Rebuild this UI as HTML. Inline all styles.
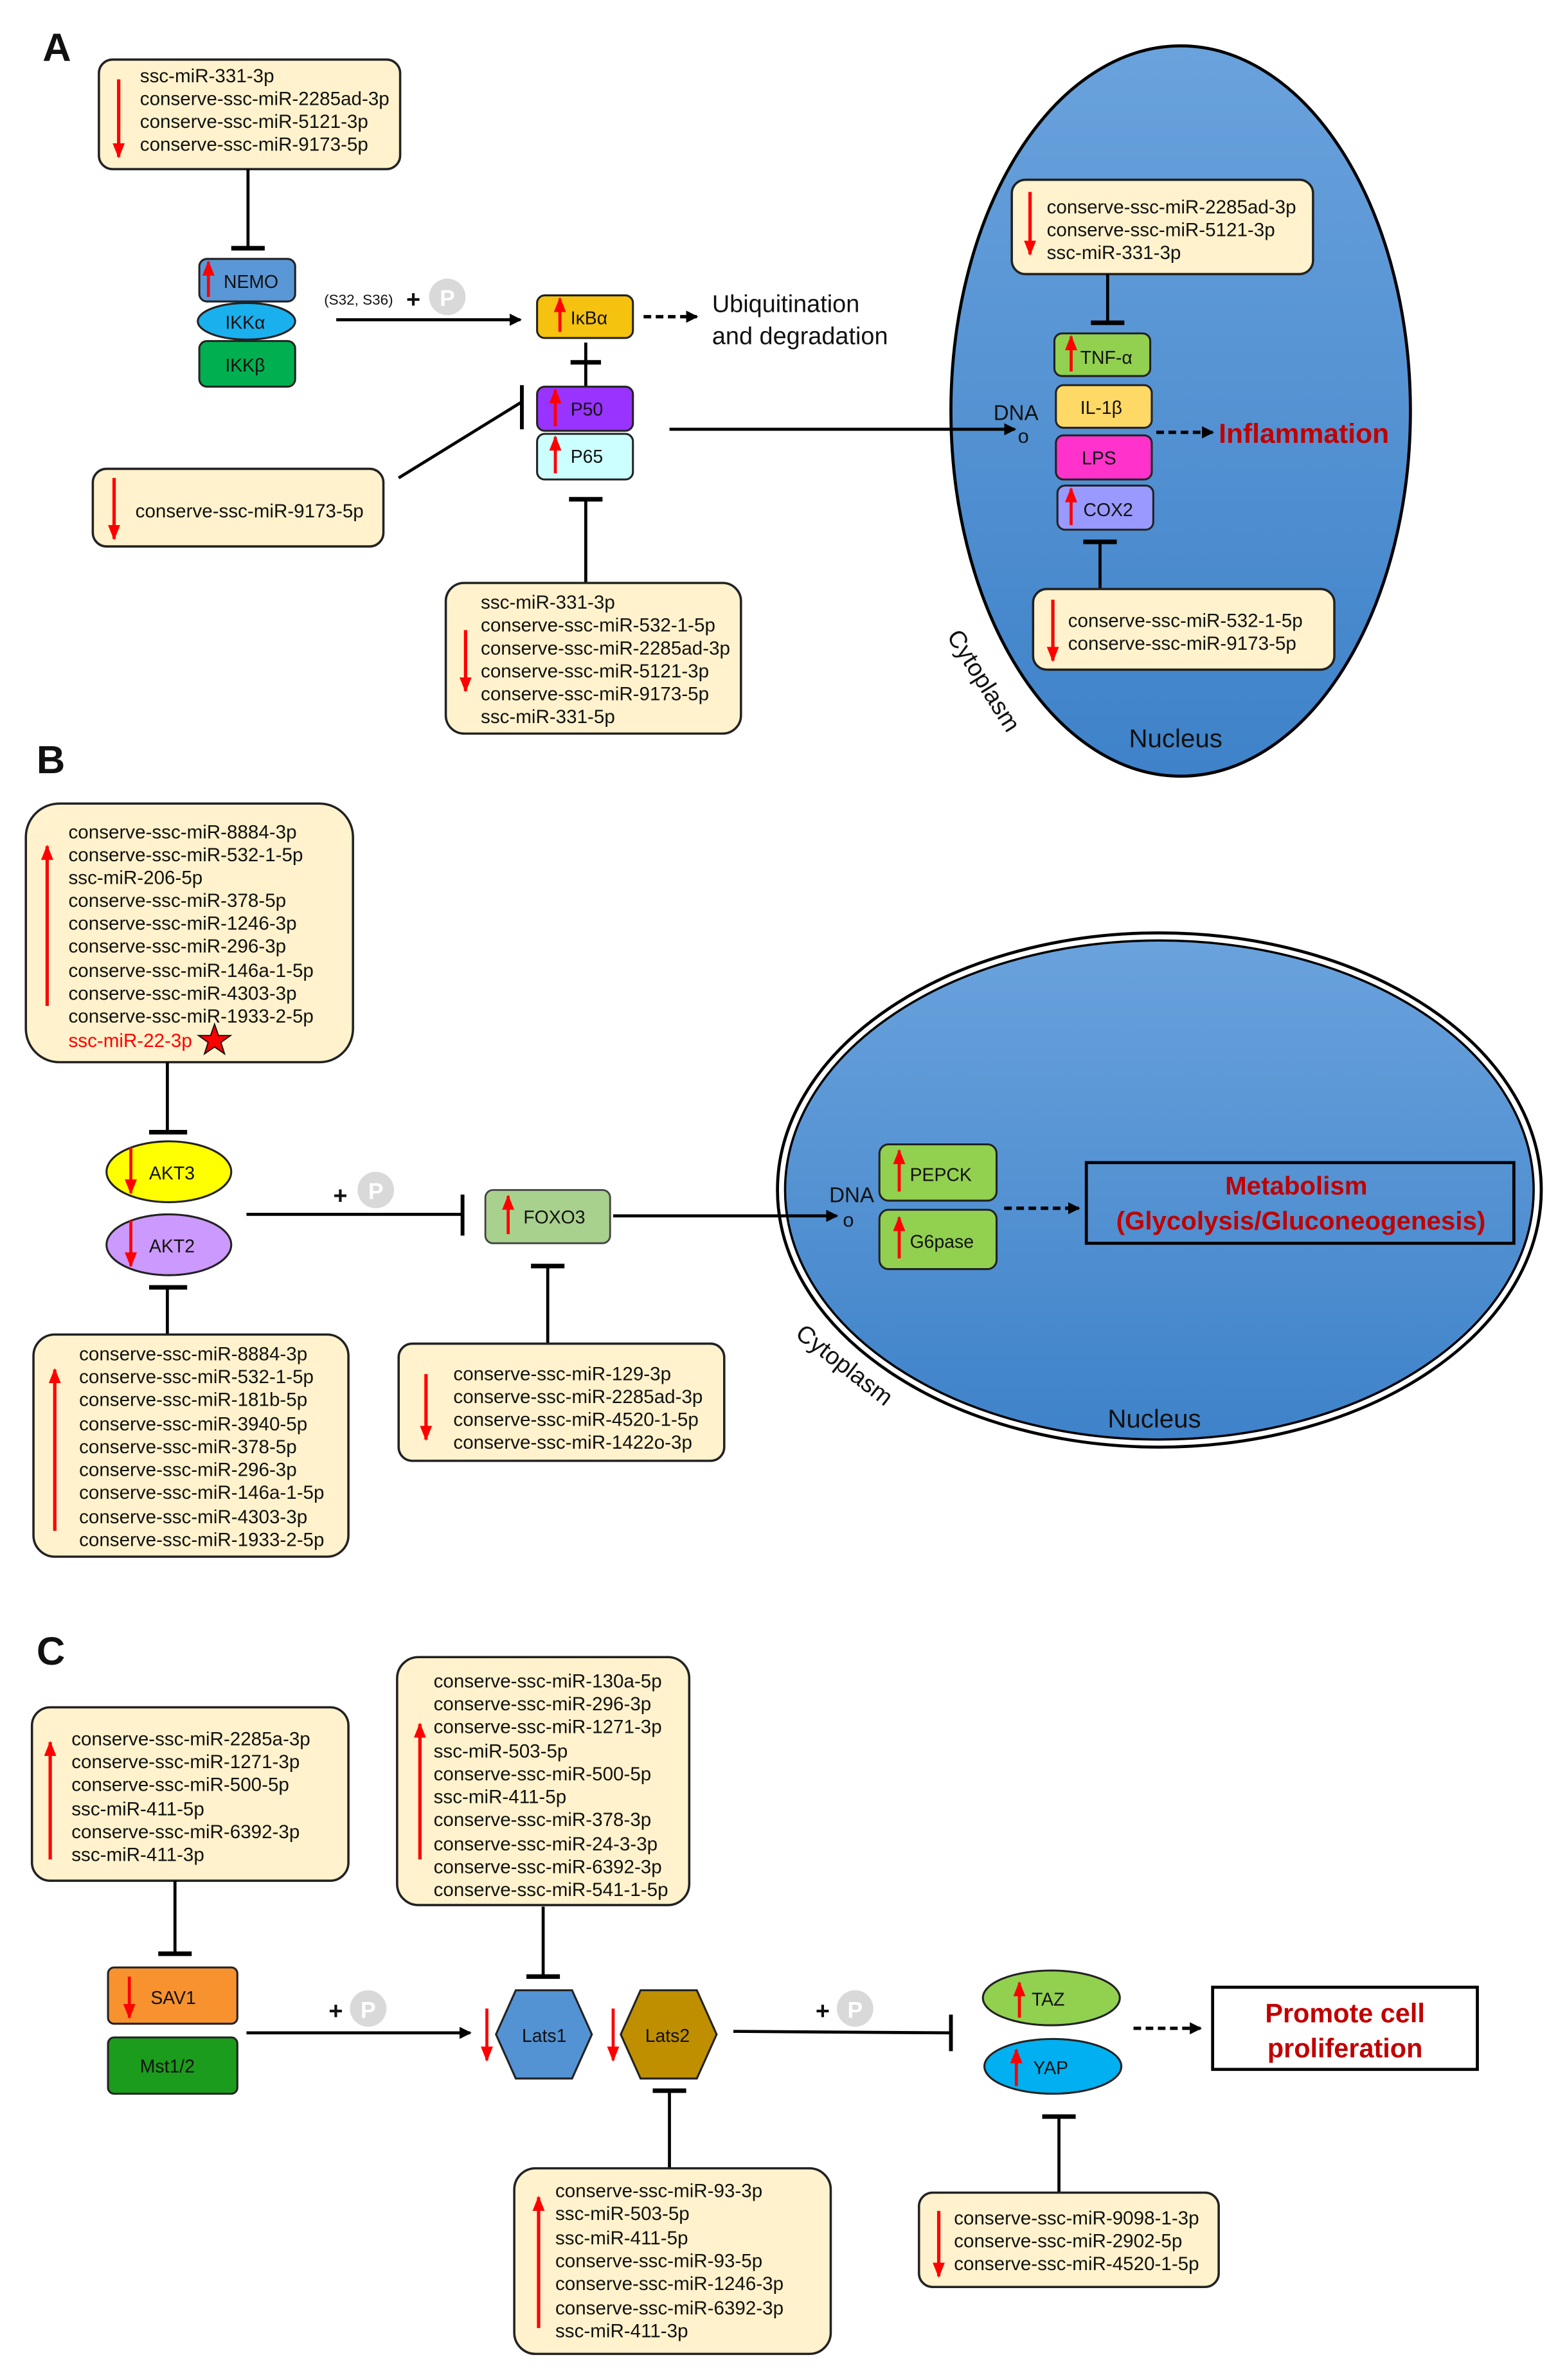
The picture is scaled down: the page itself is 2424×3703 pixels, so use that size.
<!DOCTYPE html>
<html><head><meta charset="utf-8"><style>
html,body{margin:0;padding:0;background:#fff}
svg{display:block}
text{font-family:"Liberation Sans",Arial,sans-serif;fill:#111}
.m{font-size:12.5px}
.n{font-size:12px}
</style></head><body>
<svg width="2424" height="3703" viewBox="0 0 1024 1564" xmlns="http://www.w3.org/2000/svg">
<defs>
<marker id="ba" markerWidth="8" markerHeight="8" refX="7" refY="4" orient="auto" markerUnits="userSpaceOnUse"><path d="M0,0 L8,4 L0,8 z" fill="#000"/></marker>
<marker id="ra" markerWidth="10" markerHeight="8" refX="9" refY="4" orient="auto" markerUnits="userSpaceOnUse"><path d="M0,0 L10,4 L0,8 z" fill="#f00"/></marker>
<linearGradient id="nuc" x1="0" y1="0" x2="0" y2="1"><stop offset="0" stop-color="#6aa2dc"/><stop offset="1" stop-color="#3e82c9"/></linearGradient>
</defs>
<g stroke-linecap="butt">

<!-- ============ A ============ -->
<text x="28" y="40" style="font-size:26px;font-weight:bold">A</text>
<rect x="65" y="39" width="198" height="72" rx="9" fill="#fff2cc" stroke="#222" stroke-width="1.5"/>
<line x1="78" y1="52" x2="78" y2="103" stroke="#f00" stroke-width="2.2" marker-end="url(#ra)"/>
<text class="m" x="92" y="54">ssc-miR-331-3p</text>
<text class="m" x="92" y="69">conserve-ssc-miR-2285ad-3p</text>
<text class="m" x="92" y="84">conserve-ssc-miR-5121-3p</text>
<text class="m" x="92" y="99">conserve-ssc-miR-9173-5p</text>
<line x1="163" y1="111" x2="163" y2="163" stroke="#000" stroke-width="2"/>
<line x1="152" y1="163" x2="174" y2="163" stroke="#000" stroke-width="3"/>

<rect x="131" y="170" width="63" height="28" rx="5" fill="#5a97d6" stroke="#222" stroke-width="1.3"/>
<line x1="137" y1="195" x2="137" y2="172" stroke="#f00" stroke-width="2" marker-end="url(#ra)"/>
<text class="n" x="147" y="189">NEMO</text>
<rect x="131" y="224" width="63" height="30" rx="5" fill="#00b050" stroke="#222" stroke-width="1.3"/>
<text class="n" x="148" y="244">IKKβ</text>
<ellipse cx="162" cy="211" rx="32" ry="12" fill="#1ab0ee" stroke="#222" stroke-width="1.3"/>
<text class="n" x="148" y="216">IKKα</text>

<line x1="221" y1="210" x2="342" y2="210" stroke="#000" stroke-width="2" marker-end="url(#ba)"/>
<text x="213" y="200" style="font-size:9.5px">(S32, S36)</text>
<text x="267" y="202" style="font-size:16px;font-weight:bold">+</text>
<circle cx="294" cy="195" r="12" fill="#d9d9d9"/>
<text x="294" y="201" text-anchor="middle" style="font-size:15px;font-weight:bold;fill:#fff">P</text>

<rect x="353" y="194" width="63" height="28" rx="5" fill="#f5c20f" stroke="#222" stroke-width="1.3"/>
<line x1="368" y1="218" x2="368" y2="196" stroke="#f00" stroke-width="2" marker-end="url(#ra)"/>
<text class="n" x="375" y="213">IκBα</text>
<line x1="423" y1="208" x2="458" y2="208" stroke="#000" stroke-width="2.2" stroke-dasharray="5,3" marker-end="url(#ba)"/>
<text x="468" y="205" style="font-size:16px">Ubiquitination</text>
<text x="468" y="226" style="font-size:16px">and degradation</text>

<line x1="385" y1="225" x2="385" y2="254" stroke="#000" stroke-width="2"/>
<line x1="375" y1="238" x2="395" y2="238" stroke="#000" stroke-width="3"/>

<rect x="353" y="254" width="63" height="29" rx="5" fill="#9933ff" stroke="#222" stroke-width="1.3"/>
<line x1="365" y1="280" x2="365" y2="256" stroke="#f00" stroke-width="2" marker-end="url(#ra)"/>
<text class="n" x="375" y="273">P50</text>
<rect x="353" y="285" width="63" height="30" rx="5" fill="#ccffff" stroke="#222" stroke-width="1.3"/>
<line x1="365" y1="311" x2="365" y2="287" stroke="#f00" stroke-width="2" marker-end="url(#ra)"/>
<text class="n" x="375" y="304">P65</text>

<line x1="262" y1="314" x2="343" y2="264" stroke="#000" stroke-width="2"/>
<line x1="343" y1="253" x2="343" y2="282" stroke="#000" stroke-width="2.5"/>
<rect x="61" y="308" width="191" height="51" rx="9" fill="#fff2cc" stroke="#222" stroke-width="1.5"/>
<line x1="75" y1="314" x2="75" y2="354" stroke="#f00" stroke-width="2.2" marker-end="url(#ra)"/>
<text class="m" x="89" y="340">conserve-ssc-miR-9173-5p</text>

<line x1="385" y1="383" x2="385" y2="328" stroke="#000" stroke-width="2"/>
<line x1="374" y1="328" x2="396" y2="328" stroke="#000" stroke-width="3"/>
<rect x="293" y="383" width="194" height="99" rx="12" fill="#fff2cc" stroke="#222" stroke-width="1.5"/>
<line x1="306" y1="414" x2="306" y2="454" stroke="#f00" stroke-width="2.2" marker-end="url(#ra)"/>
<text class="m" x="316" y="400">ssc-miR-331-3p</text>
<text class="m" x="316" y="415">conserve-ssc-miR-532-1-5p</text>
<text class="m" x="316" y="430">conserve-ssc-miR-2285ad-3p</text>
<text class="m" x="316" y="445">conserve-ssc-miR-5121-3p</text>
<text class="m" x="316" y="460">conserve-ssc-miR-9173-5p</text>
<text class="m" x="316" y="475">ssc-miR-331-5p</text>

<ellipse cx="776" cy="270" rx="151" ry="240" fill="url(#nuc)" stroke="#000" stroke-width="2"/>
<line x1="440" y1="282" x2="667" y2="282" stroke="#000" stroke-width="2" marker-end="url(#ba)"/>
<text x="653" y="276" style="font-size:14px">DNA</text>
<text x="669" y="291" style="font-size:13px">o</text>

<rect x="665" y="118" width="198" height="62" rx="9" fill="#fff2cc" stroke="#222" stroke-width="1.5"/>
<line x1="677" y1="126" x2="677" y2="167" stroke="#f00" stroke-width="2.2" marker-end="url(#ra)"/>
<text class="m" x="688" y="140">conserve-ssc-miR-2285ad-3p</text>
<text class="m" x="688" y="155">conserve-ssc-miR-5121-3p</text>
<text class="m" x="688" y="170">ssc-miR-331-3p</text>
<line x1="728" y1="180" x2="728" y2="212" stroke="#000" stroke-width="2"/>
<line x1="717" y1="212" x2="739" y2="212" stroke="#000" stroke-width="3"/>

<rect x="693" y="219" width="63" height="28" rx="5" fill="#92d050" stroke="#222" stroke-width="1.3"/>
<line x1="704" y1="244" x2="704" y2="221" stroke="#f00" stroke-width="2" marker-end="url(#ra)"/>
<text class="n" x="710" y="239">TNF-α</text>
<rect x="694" y="253" width="63" height="28" rx="5" fill="#ffd966" stroke="#222" stroke-width="1.3"/>
<text class="n" x="710" y="272">IL-1β</text>
<rect x="694" y="286" width="63" height="29" rx="5" fill="#ff33cc" stroke="#222" stroke-width="1.3"/>
<text class="n" x="711" y="305">LPS</text>
<rect x="695" y="319" width="63" height="29" rx="5" fill="#9999ff" stroke="#222" stroke-width="1.3"/>
<line x1="704" y1="345" x2="704" y2="321" stroke="#f00" stroke-width="2" marker-end="url(#ra)"/>
<text class="n" x="712" y="339">COX2</text>
<line x1="760" y1="284" x2="797" y2="284" stroke="#000" stroke-width="2.2" stroke-dasharray="5,3" marker-end="url(#ba)"/>
<text x="801" y="291" style="font-size:18px;font-weight:bold;fill:#c00000">Inflammation</text>

<line x1="723" y1="387" x2="723" y2="356" stroke="#000" stroke-width="2"/>
<line x1="712" y1="356" x2="734" y2="356" stroke="#000" stroke-width="3"/>
<rect x="679" y="387" width="198" height="53" rx="9" fill="#fff2cc" stroke="#222" stroke-width="1.5"/>
<line x1="692" y1="394" x2="692" y2="434" stroke="#f00" stroke-width="2.2" marker-end="url(#ra)"/>
<text class="m" x="702" y="412">conserve-ssc-miR-532-1-5p</text>
<text class="m" x="702" y="427">conserve-ssc-miR-9173-5p</text>

<text x="0" y="0" transform="translate(622,418) rotate(58)" style="font-size:16px">Cytoplasm</text>
<text x="742" y="491" style="font-size:17px">Nucleus</text>

<!-- ============ B ============ -->
<text x="24" y="508" style="font-size:26px;font-weight:bold">B</text>
<rect x="17" y="528" width="215" height="170" rx="22" fill="#fff2cc" stroke="#222" stroke-width="1.5"/>
<line x1="31" y1="661" x2="31" y2="556" stroke="#f00" stroke-width="2.2" marker-end="url(#ra)"/>
<text class="m" x="45" y="551">conserve-ssc-miR-8884-3p</text>
<text class="m" x="45" y="566">conserve-ssc-miR-532-1-5p</text>
<text class="m" x="45" y="581">ssc-miR-206-5p</text>
<text class="m" x="45" y="596">conserve-ssc-miR-378-5p</text>
<text class="m" x="45" y="611">conserve-ssc-miR-1246-3p</text>
<text class="m" x="45" y="626">conserve-ssc-miR-296-3p</text>
<text class="m" x="45" y="642">conserve-ssc-miR-146a-1-5p</text>
<text class="m" x="45" y="657">conserve-ssc-miR-4303-3p</text>
<text class="m" x="45" y="672">conserve-ssc-miR-1933-2-5p</text>
<text class="m" x="45" y="688" style="fill:#f00">ssc-miR-22-3p</text>
<path d="M141,673 L143.6,680.5 L151.5,680.5 L145.2,685 L147.6,692.5 L141,688 L134.4,692.5 L136.8,685 L130.5,680.5 L138.4,680.5 Z" fill="#f00" stroke="#111" stroke-width="0.8"/>

<line x1="110" y1="698" x2="110" y2="744" stroke="#000" stroke-width="2"/>
<line x1="98" y1="744" x2="123" y2="744" stroke="#000" stroke-width="3"/>
<ellipse cx="111" cy="770" rx="41" ry="20" fill="#ffff00" stroke="#222" stroke-width="1.3"/>
<line x1="86" y1="754" x2="86" y2="784" stroke="#f00" stroke-width="2" marker-end="url(#ra)"/>
<text class="n" x="98" y="775">AKT3</text>
<ellipse cx="111" cy="818" rx="41" ry="20" fill="#cc99ff" stroke="#222" stroke-width="1.3"/>
<line x1="86" y1="802" x2="86" y2="832" stroke="#f00" stroke-width="2" marker-end="url(#ra)"/>
<text class="n" x="98" y="823">AKT2</text>

<line x1="110" y1="877" x2="110" y2="846" stroke="#000" stroke-width="2"/>
<line x1="98" y1="846" x2="123" y2="846" stroke="#000" stroke-width="3"/>
<rect x="22" y="877" width="207" height="146" rx="14" fill="#fff2cc" stroke="#222" stroke-width="1.5"/>
<line x1="36" y1="1006" x2="36" y2="900" stroke="#f00" stroke-width="2.2" marker-end="url(#ra)"/>
<text class="m" x="52" y="894">conserve-ssc-miR-8884-3p</text>
<text class="m" x="52" y="909">conserve-ssc-miR-532-1-5p</text>
<text class="m" x="52" y="924">conserve-ssc-miR-181b-5p</text>
<text class="m" x="52" y="940">conserve-ssc-miR-3940-5p</text>
<text class="m" x="52" y="955">conserve-ssc-miR-378-5p</text>
<text class="m" x="52" y="970">conserve-ssc-miR-296-3p</text>
<text class="m" x="52" y="985">conserve-ssc-miR-146a-1-5p</text>
<text class="m" x="52" y="1001">conserve-ssc-miR-4303-3p</text>
<text class="m" x="52" y="1016">conserve-ssc-miR-1933-2-5p</text>

<line x1="162" y1="798" x2="303" y2="798" stroke="#000" stroke-width="2"/>
<line x1="304" y1="785" x2="304" y2="812" stroke="#000" stroke-width="2.5"/>
<text x="219" y="791" style="font-size:16px;font-weight:bold">+</text>
<circle cx="247" cy="782" r="12" fill="#d9d9d9"/>
<text x="247" y="788" text-anchor="middle" style="font-size:15px;font-weight:bold;fill:#fff">P</text>

<rect x="319" y="782" width="82" height="35" rx="5" fill="#a9d18e" stroke="#444" stroke-width="1.2"/>
<line x1="334" y1="811" x2="334" y2="786" stroke="#f00" stroke-width="2" marker-end="url(#ra)"/>
<text class="n" x="344" y="804">FOXO3</text>

<line x1="360" y1="883" x2="360" y2="832" stroke="#000" stroke-width="2"/>
<line x1="349" y1="832" x2="371" y2="832" stroke="#000" stroke-width="3"/>
<rect x="262" y="883" width="214" height="77" rx="9" fill="#fff2cc" stroke="#222" stroke-width="1.5"/>
<line x1="280" y1="903" x2="280" y2="946" stroke="#f00" stroke-width="2.2" marker-end="url(#ra)"/>
<text class="m" x="298" y="907">conserve-ssc-miR-129-3p</text>
<text class="m" x="298" y="922">conserve-ssc-miR-2285ad-3p</text>
<text class="m" x="298" y="937">conserve-ssc-miR-4520-1-5p</text>
<text class="m" x="298" y="952">conserve-ssc-miR-1422o-3p</text>

<ellipse cx="762" cy="782" rx="251" ry="169" fill="none" stroke="#000" stroke-width="2"/>
<ellipse cx="762" cy="782" rx="246" ry="164" fill="url(#nuc)" stroke="#000" stroke-width="1.5"/>
<line x1="403" y1="799" x2="550" y2="799" stroke="#000" stroke-width="2" marker-end="url(#ba)"/>
<text x="545" y="790" style="font-size:14px">DNA</text>
<text x="554" y="806" style="font-size:13px">o</text>
<rect x="578" y="752" width="77" height="37" rx="6" fill="#92d050" stroke="#222" stroke-width="1.3"/>
<line x1="591" y1="783" x2="591" y2="756" stroke="#f00" stroke-width="2" marker-end="url(#ra)"/>
<text class="n" x="598" y="776">PEPCK</text>
<rect x="578" y="795" width="77" height="39" rx="6" fill="#92d050" stroke="#222" stroke-width="1.3"/>
<line x1="591" y1="827" x2="591" y2="800" stroke="#f00" stroke-width="2" marker-end="url(#ra)"/>
<text class="n" x="598" y="820">G6pase</text>
<line x1="660" y1="794" x2="709" y2="794" stroke="#000" stroke-width="2.2" stroke-dasharray="5,3" marker-end="url(#ba)"/>
<rect x="714" y="764" width="281" height="53" fill="none" stroke="#000" stroke-width="2"/>
<text x="852" y="785" text-anchor="middle" style="font-size:17px;font-weight:bold;fill:#c00000">Metabolism</text>
<text x="855" y="808" text-anchor="middle" style="font-size:17px;font-weight:bold;fill:#c00000">(Glycolysis/Gluconeogenesis)</text>
<text x="0" y="0" transform="translate(522,878) rotate(38)" style="font-size:16px">Cytoplasm</text>
<text x="728" y="938" style="font-size:17px">Nucleus</text>

<!-- ============ C ============ -->
<text x="24" y="1094" style="font-size:26px;font-weight:bold">C</text>
<rect x="21" y="1122" width="208" height="114" rx="12" fill="#fff2cc" stroke="#222" stroke-width="1.5"/>
<line x1="33" y1="1222" x2="33" y2="1145" stroke="#f00" stroke-width="2.2" marker-end="url(#ra)"/>
<text class="m" x="47" y="1147">conserve-ssc-miR-2285a-3p</text>
<text class="m" x="47" y="1162">conserve-ssc-miR-1271-3p</text>
<text class="m" x="47" y="1177">conserve-ssc-miR-500-5p</text>
<text class="m" x="47" y="1193">ssc-miR-411-5p</text>
<text class="m" x="47" y="1208">conserve-ssc-miR-6392-3p</text>
<text class="m" x="47" y="1223">ssc-miR-411-3p</text>

<rect x="261" y="1089" width="192" height="163" rx="14" fill="#fff2cc" stroke="#222" stroke-width="1.5"/>
<line x1="276" y1="1222" x2="276" y2="1133" stroke="#f00" stroke-width="2.2" marker-end="url(#ra)"/>
<text class="m" x="285" y="1109">conserve-ssc-miR-130a-5p</text>
<text class="m" x="285" y="1124">conserve-ssc-miR-296-3p</text>
<text class="m" x="285" y="1139">conserve-ssc-miR-1271-3p</text>
<text class="m" x="285" y="1155">ssc-miR-503-5p</text>
<text class="m" x="285" y="1170">conserve-ssc-miR-500-5p</text>
<text class="m" x="285" y="1185">ssc-miR-411-5p</text>
<text class="m" x="285" y="1200">conserve-ssc-miR-378-3p</text>
<text class="m" x="285" y="1216">conserve-ssc-miR-24-3-3p</text>
<text class="m" x="285" y="1231">conserve-ssc-miR-6392-3p</text>
<text class="m" x="285" y="1246">conserve-ssc-miR-541-1-5p</text>

<line x1="115" y1="1236" x2="115" y2="1284" stroke="#000" stroke-width="2"/>
<line x1="104" y1="1284" x2="126" y2="1284" stroke="#000" stroke-width="3"/>
<rect x="71" y="1293" width="85" height="37" rx="4" fill="#f7922f" stroke="#222" stroke-width="1.3"/>
<line x1="85" y1="1299" x2="85" y2="1326" stroke="#f00" stroke-width="2" marker-end="url(#ra)"/>
<text class="n" x="99" y="1317">SAV1</text>
<rect x="71" y="1339" width="85" height="37" rx="4" fill="#1c9c1c" stroke="#222" stroke-width="1.3"/>
<text class="n" x="92" y="1362">Mst1/2</text>

<line x1="162" y1="1336" x2="309" y2="1336" stroke="#000" stroke-width="2" marker-end="url(#ba)"/>
<text x="216" y="1327" style="font-size:16px;font-weight:bold">+</text>
<circle cx="242" cy="1320" r="12" fill="#d9d9d9"/>
<text x="242" y="1326" text-anchor="middle" style="font-size:15px;font-weight:bold;fill:#fff">P</text>

<line x1="357" y1="1253" x2="357" y2="1299" stroke="#000" stroke-width="2"/>
<line x1="346" y1="1299" x2="368" y2="1299" stroke="#000" stroke-width="3"/>
<polygon points="339,1308 376,1308 389,1337 376,1366 339,1366 326,1337" fill="#5393d4" stroke="#222" stroke-width="1.3"/>
<line x1="320" y1="1320" x2="320" y2="1354" stroke="#f00" stroke-width="2" marker-end="url(#ra)"/>
<text class="n" x="343" y="1342">Lats1</text>
<polygon points="421,1308 458,1308 471,1337 458,1366 421,1366 408,1337" fill="#bf8f00" stroke="#222" stroke-width="1.3"/>
<line x1="403" y1="1320" x2="403" y2="1354" stroke="#f00" stroke-width="2" marker-end="url(#ra)"/>
<text class="n" x="424" y="1342">Lats2</text>

<line x1="440" y1="1425" x2="440" y2="1374" stroke="#000" stroke-width="2"/>
<line x1="429" y1="1374" x2="451" y2="1374" stroke="#000" stroke-width="3"/>
<rect x="338" y="1425" width="208" height="122" rx="14" fill="#fff2cc" stroke="#222" stroke-width="1.5"/>
<line x1="354" y1="1530" x2="354" y2="1444" stroke="#f00" stroke-width="2.2" marker-end="url(#ra)"/>
<text class="m" x="365" y="1444">conserve-ssc-miR-93-3p</text>
<text class="m" x="365" y="1459">ssc-miR-503-5p</text>
<text class="m" x="365" y="1475">ssc-miR-411-5p</text>
<text class="m" x="365" y="1490">conserve-ssc-miR-93-5p</text>
<text class="m" x="365" y="1505">conserve-ssc-miR-1246-3p</text>
<text class="m" x="365" y="1521">conserve-ssc-miR-6392-3p</text>
<text class="m" x="365" y="1536">ssc-miR-411-3p</text>

<line x1="482" y1="1335" x2="625" y2="1336" stroke="#000" stroke-width="2"/>
<line x1="625" y1="1324" x2="625" y2="1348" stroke="#000" stroke-width="2.5"/>
<text x="536" y="1327" style="font-size:16px;font-weight:bold">+</text>
<circle cx="562" cy="1320" r="12" fill="#d9d9d9"/>
<text x="562" y="1326" text-anchor="middle" style="font-size:15px;font-weight:bold;fill:#fff">P</text>

<ellipse cx="691" cy="1313" rx="45" ry="18" fill="#92d050" stroke="#222" stroke-width="1.3"/>
<line x1="670" y1="1326" x2="670" y2="1303" stroke="#f00" stroke-width="2" marker-end="url(#ra)"/>
<text class="n" x="678" y="1318">TAZ</text>
<ellipse cx="692" cy="1358" rx="45" ry="18" fill="#00b0f0" stroke="#222" stroke-width="1.3"/>
<line x1="668" y1="1371" x2="668" y2="1347" stroke="#f00" stroke-width="2" marker-end="url(#ra)"/>
<text class="n" x="679" y="1363">YAP</text>
<line x1="745" y1="1333" x2="789" y2="1333" stroke="#000" stroke-width="2.2" stroke-dasharray="5,3" marker-end="url(#ba)"/>
<rect x="797" y="1306" width="174" height="54" fill="#fff" stroke="#000" stroke-width="2"/>
<text x="884" y="1329" text-anchor="middle" style="font-size:17.5px;font-weight:bold;fill:#c00000">Promote cell</text>
<text x="884" y="1352" text-anchor="middle" style="font-size:17.5px;font-weight:bold;fill:#c00000">proliferation</text>

<line x1="696" y1="1441" x2="696" y2="1391" stroke="#000" stroke-width="2"/>
<line x1="685" y1="1391" x2="707" y2="1391" stroke="#000" stroke-width="3"/>
<rect x="604" y="1441" width="197" height="62" rx="9" fill="#fff2cc" stroke="#222" stroke-width="1.5"/>
<line x1="617" y1="1453" x2="617" y2="1496" stroke="#f00" stroke-width="2.2" marker-end="url(#ra)"/>
<text class="m" x="627" y="1462">conserve-ssc-miR-9098-1-3p</text>
<text class="m" x="627" y="1477">conserve-ssc-miR-2902-5p</text>
<text class="m" x="627" y="1492">conserve-ssc-miR-4520-1-5p</text>
</g>
</svg>
</body></html>
